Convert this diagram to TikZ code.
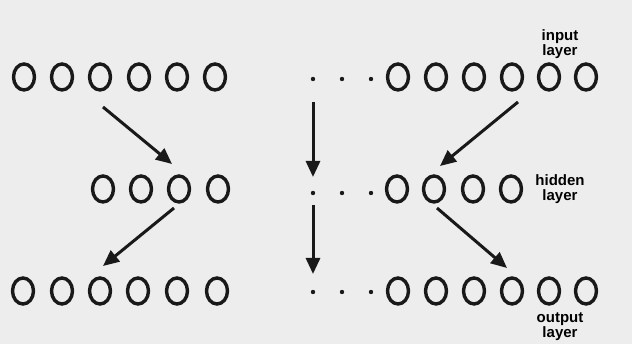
\documentclass[tikz,border=0pt]{standalone}
\usepackage{fontspec}
\setmainfont{Liberation Sans}
\usetikzlibrary{shapes.geometric,arrows.meta}
\begin{document}
\begin{tikzpicture}[x=1pt,y=-1pt,
  unit/.style={ellipse,draw=black!90,line width=3.4pt,minimum width=21pt,minimum height=26pt,inner sep=0pt},
  dotmark/.style={circle,fill=black!90,minimum size=4.4pt,inner sep=0pt},
  conn/.style={line width=3pt,draw=black!90,-{Triangle[length=16pt,width=14pt]}},
  lbl/.style={font=\fontsize{15}{15}\selectfont\bfseries,align=center,text=black,inner sep=0pt}]
\fill[black!7] (0,0) rectangle (632,344);
\useasboundingbox (0,0) rectangle (632,344);
% input layer
\foreach \x [count=\i] in {24,62,100,139,177,215} \node[unit] (iL\i) at (\x,77) {};
\foreach \x [count=\i] in {398,436,474,512,549,586} \node[unit] (iR\i) at (\x,77) {};
\foreach \x [count=\i] in {313,342,371} \node[dotmark] (iD\i) at (\x,79) {};
% hidden layer
\foreach \x [count=\i] in {103,141,179,218} \node[unit] (hL\i) at (\x,189) {};
\foreach \x [count=\i] in {397,434,473,511} \node[unit] (hR\i) at (\x,189) {};
\foreach \x [count=\i] in {313,342,371} \node[dotmark] (hD\i) at (\x,193) {};
% output layer
\foreach \x [count=\i] in {23,62,100,138,177,217} \node[unit] (oL\i) at (\x,291) {};
\foreach \x [count=\i] in {398,436,474,512,549,586} \node[unit] (oR\i) at (\x,291) {};
\foreach \x [count=\i] in {313,342,371} \node[dotmark] (oD\i) at (\x,292) {};
% labels
\node[lbl] (tin) at (560,44) {input\\layer};
\node[lbl] (thid) at (560,189) {hidden\\layer};
\node[lbl] (tout) at (560,327) {output\\layer};
% arrow end points
\coordinate (a1s) at (103,107); \coordinate (a1e) at (172,164);
\coordinate (a2s) at (313,102); \coordinate (a2e) at (313,177);
\coordinate (a3s) at (518,102); \coordinate (a3e) at (440,166);
\coordinate (b1s) at (174,208); \coordinate (b1e) at (103,266);
\coordinate (b2s) at (313,205); \coordinate (b2e) at (313,274);
\coordinate (b3s) at (437,208); \coordinate (b3e) at (507,268);
\draw[conn] (a1s) -- (a1e);
\draw[conn] (a2s) -- (a2e);
\draw[conn] (a3s) -- (a3e);
\draw[conn] (b1s) -- (b1e);
\draw[conn] (b2s) -- (b2e);
\draw[conn] (b3s) -- (b3e);
\end{tikzpicture}
\end{document}
